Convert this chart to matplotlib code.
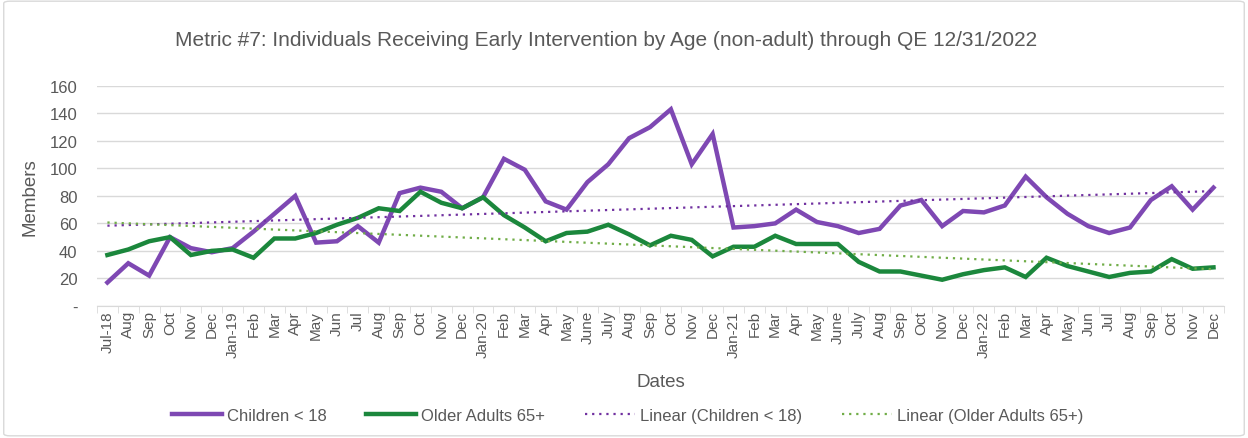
import numpy as np
import matplotlib
matplotlib.use("Agg")
import matplotlib.pyplot as plt
from matplotlib.patches import FancyBboxPatch

plt.rcParams['font.family'] = ['Liberation Sans', 'DejaVu Sans']

# Данные
months = ["Jul-18", "Aug", "Sep", "Oct", "Nov", "Dec",
          "Jan-19", "Feb", "Mar", "Apr", "May", "Jun", "Jul", "Aug", "Sep", "Oct", "Nov", "Dec",
          "Jan-20", "Feb", "Mar", "Apr", "May", "June", "July", "Aug", "Sep", "Oct", "Nov", "Dec",
          "Jan-21", "Feb", "Mar", "Apr", "May", "June", "July", "Aug", "Sep", "Oct", "Nov", "Dec",
          "Jan-22", "Feb", "Mar", "Apr", "May", "Jun", "Jul", "Aug", "Sep", "Oct", "Nov", "Dec"]

children = [17, 31, 22, 50, 42, 39,
            42, 54, 67, 80, 46, 47, 58, 46, 82, 86, 83, 71,
            79, 107, 99, 76, 70, 90, 103, 122, 130, 143, 103, 125,
            57, 58, 60, 70, 61, 58, 53, 56, 73, 77, 58, 69,
            68, 73, 94, 79, 67, 58, 53, 57, 77, 87, 70, 86]

older = [37, 41, 47, 50, 37, 40,
         41, 35, 49, 49, 53, 59, 64, 71, 69, 83, 75, 71,
         79, 66, 57, 47, 53, 54, 59, 52, 44, 51, 48, 36,
         43, 43, 51, 45, 45, 45, 32, 25, 25, 22, 19, 23,
         26, 28, 21, 35, 29, 25, 21, 24, 25, 34, 27, 28]

x = np.arange(len(months))

# Линейные тренды (как в Excel)
ch_fit = np.polyval(np.polyfit(x, children, 1), x)
old_fit = np.polyval(np.polyfit(x, older, 1), x)

fig = plt.figure(figsize=(12.48, 4.39), dpi=100)
ax = fig.add_axes([0.0777, 0.301, 0.903, 0.501])

# рамка вокруг графика
fig.patches.append(FancyBboxPatch((0.003, 0.005), 0.994, 0.99, boxstyle="round,pad=0,rounding_size=0.005",
                                  transform=fig.transFigure, fill=False, edgecolor="#D9D9D9", linewidth=1))

ax.plot(x, children, color="#7E48B3", linewidth=3.2, label="Children < 18", solid_joinstyle="miter")
ax.plot(x, older, color="#1B873C", linewidth=3.2, label="Older Adults 65+", solid_joinstyle="miter")
ax.plot(x, ch_fit, color="#7030A0", linewidth=1.6, linestyle=(0, (1, 2.2)), label="Linear (Children < 18)")
ax.plot(x, old_fit, color="#70AD47", linewidth=1.6, linestyle=(0, (1, 2.2)), label="Linear (Older Adults 65+)")

ax.set_xlim(-0.5, len(months) - 0.5)
ax.set_ylim(0, 160)
ax.set_yticks(range(0, 161, 20))
ax.set_yticklabels(["-"] + [str(v) for v in range(20, 161, 20)])
ax.set_xticks(x)
ax.set_xticklabels(months, rotation=90)
ax.set_xticks(np.arange(-0.5, len(months), 1), minor=True)

ax.grid(axis="y", color="#D9D9D9", linewidth=1)
ax.set_axisbelow(True)
for s in ["top", "right", "left"]:
    ax.spines[s].set_visible(False)
ax.spines["bottom"].set_color("#D9D9D9")
ax.tick_params(axis="y", length=0, labelsize=12, colors="#595959", pad=14)
ax.tick_params(axis="x", which="major", length=0, labelsize=11, colors="#595959", pad=3)
ax.tick_params(axis="x", which="minor", length=5, color="#D9D9D9")

ax.set_ylabel("Members", fontsize=13.5, color="#595959", labelpad=8)
ax.set_xlabel("Dates", fontsize=13.5, color="#595959", labelpad=12)
fig.suptitle("Metric #7: Individuals Receiving Early Intervention by Age (non-adult) through QE 12/31/2022",
             x=0.486, y=0.93, fontsize=15, color="#595959")

fig.legend(loc="lower center", ncol=4, frameon=False, fontsize=12, bbox_to_anchor=(0.503, 0.0),
           handlelength=3.0, columnspacing=2.4, handletextpad=0.3, labelcolor="#595959")

plt.savefig("out.png", dpi=100)
